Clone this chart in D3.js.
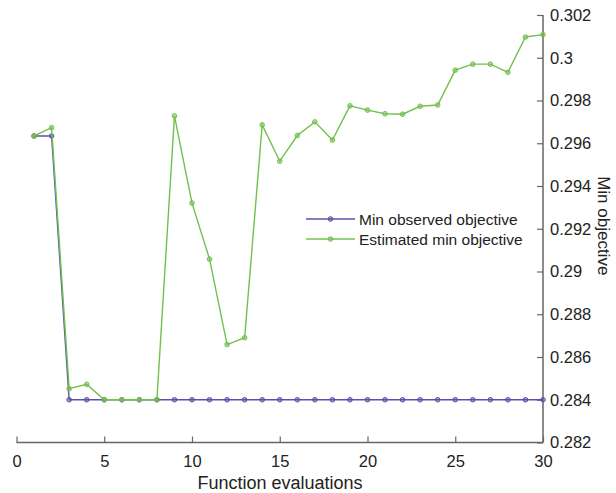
<!DOCTYPE html>
<html>
<head>
<meta charset="utf-8">
<script src="https://cdn.jsdelivr.net/npm/d3@7"></script>
<style>
  body { margin: 0; background: #fff; }
  svg { font-family: "Liberation Sans", Arial, sans-serif; }
</style>
</head>
<body>
<div id="chart"></div>
<script>
const evaluations = d3.range(1, 31);
const minObserved = [0.29634, 0.29634, 0.284, 0.284, 0.284, 0.284, 0.284, 0.284, 0.284, 0.284,
  0.284, 0.284, 0.284, 0.284, 0.284, 0.284, 0.284, 0.284, 0.284, 0.284,
  0.284, 0.284, 0.284, 0.284, 0.284, 0.284, 0.284, 0.284, 0.284, 0.284];
const estimatedMin = [0.29634, 0.29673, 0.28452, 0.28472, 0.284, 0.284, 0.284, 0.284, 0.29728, 0.29320,
  0.29058, 0.28658, 0.28690, 0.29686, 0.29516, 0.29636, 0.29700, 0.29615, 0.29775, 0.29755,
  0.29738, 0.29736, 0.29773, 0.29779, 0.29942, 0.29970, 0.29970, 0.29932, 0.30097, 0.30108];
const xTicks = [0, 5, 10, 15, 20, 25, 30];
const yTicks = [0.282, 0.284, 0.286, 0.288, 0.29, 0.292, 0.294, 0.296, 0.298, 0.3, 0.302];
const seriesNames = ["Min observed objective", "Estimated min objective"];
const colors = ["#5b52a8", "#72c04e"];

const width = 616, height = 493;
const svg = d3.select("#chart").append("svg")
  .attr("width", width).attr("height", height);

const x = d3.scaleLinear().domain([0, 30]).range([16.5, 543]);
const y = d3.scaleLinear().domain([0.282, 0.302]).range([442.5, 15]);

const axisColor = "#666";

// x axis (ticks pointing inward)
const gx = svg.append("g")
  .attr("transform", `translate(0,${y(0.282)})`)
  .call(d3.axisBottom(x).tickValues(xTicks).tickSize(-6).tickPadding(12.5).tickFormat(d3.format("d")));
gx.select(".domain").attr("stroke", axisColor).attr("stroke-width", 1.5).attr("d", `M${x(0)},0H${x(30)}`);
gx.selectAll(".tick line").attr("stroke", axisColor).attr("stroke-width", 1.2);
gx.selectAll(".tick text").attr("fill", "#222").attr("font-size", 16.5);

// y axis on the right (ticks pointing inward)
const gy = svg.append("g")
  .attr("transform", `translate(${x(30)},0)`)
  .call(d3.axisRight(y).tickValues(yTicks).tickSize(-6).tickPadding(7).tickFormat(d => String(+d.toFixed(3))));
gy.select(".domain").attr("stroke", axisColor).attr("stroke-width", 1.5).attr("d", `M0,${y(0.302)}V${y(0.282)}`);
gy.selectAll(".tick line").attr("stroke", axisColor).attr("stroke-width", 1.2);
gy.selectAll(".tick text").attr("fill", "#222").attr("font-size", 16.5);

svg.append("text")
  .attr("x", 280).attr("y", 489)
  .attr("text-anchor", "middle").attr("font-size", 18).attr("fill", "#222")
  .text("Function evaluations");

svg.append("text")
  .attr("transform", `translate(598,${(y(0.282) + y(0.302)) / 2 - 3}) rotate(90)`)
  .attr("text-anchor", "middle").attr("font-size", 17).attr("fill", "#222")
  .text("Min objective");

const series = [minObserved, estimatedMin];
const line = d3.line().x((d, i) => x(evaluations[i])).y(d => y(d));

[0, 1].forEach(k => {
  const g = svg.append("g");
  g.append("path").datum(series[k])
    .attr("fill", "none").attr("stroke", colors[k]).attr("stroke-width", 1.4)
    .attr("d", line);
  g.selectAll("circle").data(series[k]).join("circle")
    .attr("cx", (d, i) => x(evaluations[i])).attr("cy", d => y(d))
    .attr("r", 2.3).attr("fill", colors[k]).attr("fill-opacity", 0.5)
    .attr("stroke", colors[k]).attr("stroke-width", 1);
});

// legend
const legend = svg.append("g");
seriesNames.forEach((name, k) => {
  const ly = 219 + k * 20;
  legend.append("line").attr("x1", 306).attr("x2", 355).attr("y1", ly).attr("y2", ly)
    .attr("stroke", colors[k]).attr("stroke-width", 1.4);
  legend.append("circle").attr("cx", 330.5).attr("cy", ly).attr("r", 2.3)
    .attr("fill", colors[k]).attr("fill-opacity", 0.5).attr("stroke", colors[k]);
  legend.append("text").attr("x", 359).attr("y", ly + 5.5)
    .attr("font-size", 15.5).attr("fill", "#222").text(name);
});
</script>
</body>
</html>
